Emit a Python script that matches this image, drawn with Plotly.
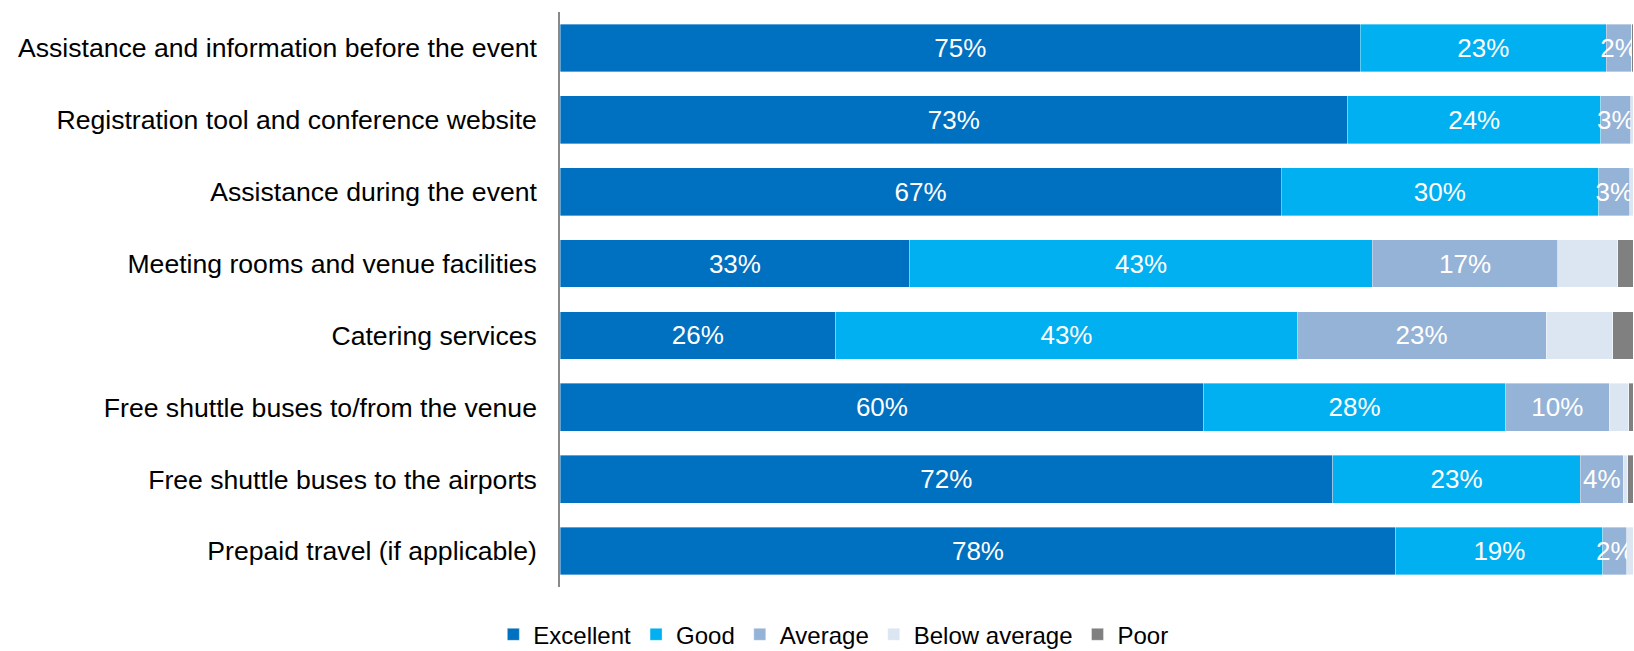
import plotly.graph_objects as go

categories = [
    "Assistance and information before the event",
    "Registration tool and conference website",
    "Assistance during the event",
    "Meeting rooms and venue facilities",
    "Catering services",
    "Free shuttle buses to/from the venue",
    "Free shuttle buses to the airports",
    "Prepaid travel (if applicable)",
]

excellent = [74.6, 73.4, 67.2, 32.6, 25.7, 60.0, 72.0, 77.9]
good = [22.9, 23.6, 29.6, 43.1, 43.0, 28.1, 23.1, 19.3]
average = [2.4, 2.8, 2.9, 17.3, 23.2, 9.7, 4.0, 2.2]
below_average = [0.0, 0.2, 0.3, 5.6, 6.2, 1.8, 0.4, 0.6]
poor = [0.1, 0.0, 0.0, 1.4, 1.9, 0.4, 0.5, 0.0]

series = [
    ("Excellent", excellent, "#0070C0", True),
    ("Good", good, "#00B0F0", True),
    ("Average", average, "#95B3D7", True),
    ("Below average", below_average, "#DCE6F2", False),
    ("Poor", poor, "#808080", False),
]

FONT = "Liberation Sans, Arial, sans-serif"

fig = go.Figure()
for name, vals, color, labelled in series:
    fig.add_trace(go.Bar(
        y=categories,
        x=vals,
        name=name,
        orientation="h",
        marker=dict(color=color, line=dict(width=0.6, color="rgba(255,255,255,0.6)")),
        texttemplate="%{x:.0f}%" if labelled else None,
        textposition="inside" if labelled else "none",
        insidetextanchor="middle",
        textangle=0,
        insidetextfont=dict(color="white", size=26, family=FONT),
        constraintext="none",
        cliponaxis=False,
    ))

fig.update_layout(
    barmode="stack",
    bargap=0.335,
    width=1634,
    height=651,
    margin=dict(l=560, r=1, t=12, b=64),
    paper_bgcolor="white",
    plot_bgcolor="white",
    font=dict(family=FONT, color="#000000"),
    uniformtext=dict(minsize=26, mode="show"),
    xaxis=dict(range=[0, 100], visible=False, fixedrange=True),
    yaxis=dict(
        autorange="reversed",
        showline=True,
        linecolor="#898989",
        linewidth=1.5,
        ticks="",
        ticklabelstandoff=16,
        tickfont=dict(size=26.6, color="#000000", family=FONT),
        automargin=False,
        showgrid=False,
    ),
    legend=dict(
        orientation="h",
        xref="container",
        yref="container",
        x=0.51,
        xanchor="center",
        y=0.025,
        yanchor="middle",
        font=dict(size=24, color="#000000", family=FONT),
        itemwidth=30,
        traceorder="normal",
    ),
    showlegend=True,
)

fig.write_html(
    "out.html",
    config={"displayModeBar": False},
    post_script="document.body.style.margin='0';document.body.style.overflow='hidden';",
)
